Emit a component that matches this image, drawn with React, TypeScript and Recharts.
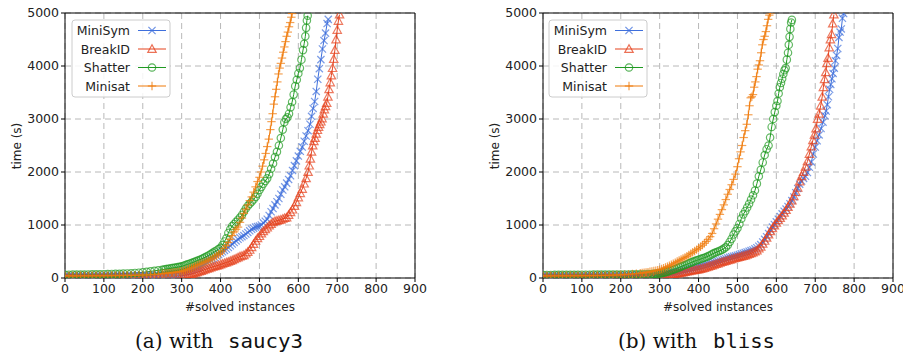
import React from 'react';
import { LineChart, Line, XAxis, YAxis, CartesianGrid, ReferenceLine } from 'recharts';

const xTicks = [0, 100, 200, 300, 400, 500, 600, 700, 800, 900];
const yTicks = [0, 1000, 2000, 3000, 4000, 5000];
const seriesNames = ['MiniSym', 'BreakID', 'Shatter', 'Minisat'];
const captions = [
  { prefix: '(a) with ', tool: 'saucy3' },
  { prefix: '(b) with ', tool: 'bliss' },
];

// (a) saucy3 — [#solved instances, time (s)]
const saucyMiniSym: [number, number][] = [
  [0, 40], [10, 40], [20, 40], [30, 41], [40, 41], [50, 42], [60, 42], [70, 43], [80, 43], [90, 44], [100, 44],
  [110, 45], [120, 45], [130, 46], [140, 46], [150, 47], [160, 48], [170, 48], [180, 49], [190, 50], [200, 51],
  [210, 52], [220, 54], [230, 56], [240, 58], [250, 62], [255, 64], [260, 66], [265, 69], [270, 72], [275, 75],
  [280, 78], [285, 82], [290, 86], [295, 90],
  [300, 94], [305, 104], [310, 115], [315, 127], [320, 140], [325, 152], [330, 165], [335, 180], [340, 195],
  [345, 212], [350, 230], [355, 250], [360, 270], [365, 292], [370, 315], [375, 337], [380, 360], [385, 387],
  [390, 415], [395, 442], [400, 470], [405, 495], [410, 520], [415, 547], [420, 575], [425, 607], [430, 640],
  [435, 670], [440, 700], [445, 730], [450, 760], [455, 780], [460, 800], [465, 830], [470, 860], [475, 890],
  [480, 920], [485, 940], [490, 960], [495, 970], [500, 980], [505, 1000], [510, 1040], [515, 1070], [520, 1110],
  [525, 1180], [530, 1250], [535, 1310], [540, 1380], [545, 1440], [550, 1500], [555, 1580], [560, 1660],
  [565, 1720], [570, 1790], [575, 1860], [580, 1930], [585, 2030], [590, 2120], [595, 2210], [600, 2300],
  [605, 2390], [610, 2470], [615, 2580], [620, 2680], [625, 2780], [630, 2900], [634, 3050], [638, 3200],
  [642, 3330], [646, 3520], [650, 3750], [654, 3950], [658, 4120], [662, 4320], [666, 4480], [670, 4620],
  [674, 4800], [677, 4880],
];
const saucyBreakID: [number, number][] = [
  [0, 30], [10, 30], [20, 30], [30, 30], [40, 30], [50, 30], [60, 30], [70, 30], [80, 31], [90, 31], [100, 31],
  [110, 31], [120, 32], [130, 32], [140, 32], [150, 33], [160, 33], [170, 33], [180, 34], [190, 34], [200, 35],
  [210, 35], [220, 36], [230, 36], [240, 37], [250, 37], [260, 38], [270, 39], [280, 40], [290, 42],
  [300, 45], [305, 50], [310, 55], [315, 62], [320, 70], [325, 77], [330, 85], [335, 97], [340, 110], [345, 120],
  [350, 130], [355, 145], [360, 160], [365, 172], [370, 185], [375, 197], [380, 210], [385, 220], [390, 230],
  [395, 242], [400, 255], [405, 267], [410, 280], [415, 292], [420, 305], [425, 320], [430, 335], [435, 352],
  [440, 370], [445, 387], [450, 405], [455, 417], [460, 430], [465, 460], [470, 490], [475, 530],
  [480, 580], [485, 640], [490, 700], [495, 750], [500, 790], [505, 840], [510, 880], [515, 920], [520, 950],
  [525, 990], [530, 1020], [535, 1050], [540, 1070], [545, 1080], [550, 1090], [555, 1100], [560, 1115],
  [565, 1130], [570, 1140], [575, 1190], [580, 1240], [585, 1290], [590, 1360], [595, 1430], [600, 1520],
  [605, 1600], [610, 1680], [615, 1780], [620, 1880], [625, 2000], [628, 2120], [631, 2250], [634, 2380],
  [637, 2500], [640, 2580], [643, 2640], [646, 2720], [649, 2790], [652, 2850], [655, 2900], [658, 2950],
  [661, 3010], [664, 3100], [667, 3180], [670, 3240], [673, 3300], [676, 3420], [679, 3560], [682, 3690],
  [685, 3820], [688, 3960], [691, 4130], [694, 4300], [697, 4500], [700, 4680], [703, 4850], [706, 4970],
];
const saucyShatter: [number, number][] = [
  [0, 60], [10, 62], [20, 63], [30, 64], [40, 65], [50, 66], [60, 67], [70, 68], [80, 69], [90, 70], [100, 72],
  [110, 74], [120, 76], [130, 78], [140, 80], [150, 83], [160, 86], [170, 90], [180, 95], [190, 100], [200, 107],
  [210, 115], [220, 125], [230, 135], [240, 145], [250, 155], [255, 161], [260, 168], [265, 174], [270, 180],
  [275, 186], [280, 192], [285, 198], [290, 205], [295, 212], [300, 220], [305, 232], [310, 245], [315, 257],
  [320, 270], [325, 282], [330, 295], [335, 310], [340, 325], [345, 340], [350, 355], [355, 372], [360, 390],
  [365, 410], [370, 430], [375, 452], [380, 475], [385, 497], [390, 520], [395, 545], [400, 570], [405, 620],
  [410, 690], [415, 750], [420, 850], [425, 920], [430, 980], [435, 1020],
  [440, 1060], [445, 1100], [450, 1140], [455, 1190], [460, 1250], [465, 1310], [470, 1360], [475, 1400],
  [480, 1440], [485, 1480], [490, 1530], [495, 1590], [500, 1660], [505, 1720], [510, 1780], [515, 1830],
  [520, 1880], [525, 1960], [530, 2060], [535, 2160], [540, 2280], [545, 2380], [550, 2500], [555, 2640],
  [560, 2800], [564, 2940], [568, 3000], [572, 3030], [576, 3100], [580, 3220], [584, 3320], [588, 3460],
  [592, 3620], [596, 3740], [600, 3860], [604, 3960], [608, 4120], [612, 4300], [615, 4420], [618, 4560],
  [620, 4720], [622, 4860], [624, 4950],
];
const saucyMinisat: [number, number][] = [
  [0, 40], [10, 40], [20, 40], [30, 40], [40, 41], [50, 41], [60, 41], [70, 42], [80, 42], [90, 42], [100, 43],
  [110, 43], [120, 44], [130, 44], [140, 45], [150, 46], [160, 47], [170, 48], [180, 50], [190, 52], [200, 55],
  [210, 58], [220, 62], [230, 67], [240, 72], [250, 80], [255, 84], [260, 88], [265, 92], [270, 96], [275, 100],
  [280, 105], [285, 110], [290, 115], [295, 120], [300, 126], [305, 138], [310, 150], [315, 162], [320, 175],
  [325, 190], [330, 205], [335, 222], [340, 240], [345, 255], [350, 270], [355, 285], [360, 300], [365, 315],
  [370, 330], [375, 350], [380, 370], [385, 395], [390, 420], [395, 445],
  [400, 470], [405, 510], [410, 560], [415, 610], [420, 670], [425, 730], [430, 800], [435, 870], [440, 920],
  [445, 960], [450, 1050], [455, 1130], [460, 1220], [465, 1300], [470, 1380], [475, 1460], [480, 1530],
  [485, 1620], [490, 1720], [495, 1820], [500, 1900], [504, 2000], [508, 2110], [512, 2230], [516, 2350],
  [520, 2480], [524, 2620], [528, 2800], [531, 2950], [534, 3100], [537, 3280], [540, 3420], [543, 3560],
  [546, 3700], [549, 3850], [552, 3960], [555, 4050], [558, 4150], [561, 4260], [564, 4360], [567, 4460],
  [570, 4560], [573, 4640], [576, 4740], [579, 4820], [582, 4920], [584, 4990],
];

// (b) bliss
const blissMiniSym: [number, number][] = [
  [0, 40], [10, 40], [20, 40], [30, 41], [40, 41], [50, 42], [60, 42], [70, 43], [80, 43], [90, 44], [100, 44],
  [110, 45], [120, 45], [130, 46], [140, 46], [150, 47], [160, 48], [170, 48], [180, 49], [190, 50], [200, 51],
  [210, 52], [220, 53], [230, 54], [240, 55], [250, 56], [260, 57], [270, 58], [280, 59], [290, 60],
  [300, 62], [305, 66], [310, 70], [315, 75], [320, 80], [325, 86], [330, 92], [335, 98], [340, 105], [345, 111],
  [350, 118], [355, 126], [360, 135], [365, 142], [370, 150], [375, 160], [380, 170], [385, 180], [390, 190],
  [395, 200], [400, 210], [405, 220], [410, 230], [415, 240], [420, 250], [425, 260], [430, 270], [435, 280],
  [440, 290], [445, 302], [450, 315], [455, 327], [460, 340], [465, 352], [470, 365], [475, 377], [480, 390],
  [485, 400], [490, 410], [495, 420], [500, 430], [505, 442], [510, 455], [515, 467], [520, 480], [525, 492],
  [530, 505], [535, 517], [540, 530], [545, 550], [550, 570], [555, 600], [560, 630], [565, 680], [570, 730],
  [575, 780], [580, 840], [585, 900], [590, 960], [595, 1010], [600, 1060], [605, 1110], [610, 1160],
  [615, 1210], [620, 1260], [625, 1300], [630, 1350], [635, 1400], [640, 1460], [645, 1530], [650, 1610],
  [655, 1690], [660, 1770], [665, 1830], [670, 1880], [675, 1920], [680, 1990], [685, 2090], [690, 2190],
  [695, 2340], [700, 2470], [705, 2590], [710, 2700], [715, 2820], [720, 2940], [725, 3060], [728, 3150],
  [731, 3270], [734, 3420], [737, 3560], [740, 3650], [743, 3760], [746, 3860], [749, 3960], [752, 4100],
  [755, 4200], [758, 4330], [761, 4540], [764, 4640], [767, 4700], [770, 4900], [773, 4990],
];
const blissBreakID: [number, number][] = [
  [0, 30], [10, 30], [20, 30], [30, 30], [40, 30], [50, 30], [60, 30], [70, 30], [80, 31], [90, 31], [100, 31],
  [110, 31], [120, 32], [130, 32], [140, 32], [150, 33], [160, 33], [170, 33], [180, 34], [190, 34], [200, 35],
  [210, 35], [220, 36], [230, 36], [240, 37], [250, 37], [260, 38], [270, 38], [280, 39], [290, 39],
  [300, 40], [305, 42], [310, 45], [315, 50], [320, 55], [325, 60], [330, 65], [335, 71], [340, 78], [345, 84],
  [350, 90], [355, 97], [360, 105], [365, 112], [370, 120], [375, 127], [380, 135], [385, 141], [390, 148],
  [395, 154], [400, 160], [405, 170], [410, 180], [415, 190], [420, 200], [425, 212], [430, 225], [435, 237],
  [440, 250], [445, 262], [450, 275], [455, 287], [460, 300], [465, 310], [470, 320], [475, 332], [480, 345],
  [485, 355], [490, 365], [495, 375], [500, 385], [505, 395], [510, 405], [515, 415], [520, 425], [525, 437],
  [530, 450], [535, 465], [540, 480], [545, 500], [550, 520], [555, 555], [560, 590], [565, 645], [570, 700],
  [575, 760], [580, 820], [585, 880], [590, 940], [595, 990], [600, 1040], [605, 1090], [610, 1130],
  [615, 1180], [620, 1230], [625, 1280], [630, 1340], [635, 1400], [640, 1460], [645, 1540], [650, 1620],
  [655, 1700], [660, 1820], [665, 1920], [670, 2000], [675, 2100], [680, 2200], [685, 2340], [690, 2480],
  [694, 2600], [698, 2700], [702, 2820], [706, 3000], [710, 3100], [714, 3250], [718, 3420], [721, 3600],
  [724, 3750], [727, 3880], [730, 4050], [733, 4150], [736, 4350], [739, 4500], [742, 4600], [745, 4800],
  [748, 4970],
];
const blissShatter: [number, number][] = [
  [0, 58], [10, 58], [20, 58], [30, 59], [40, 59], [50, 59], [60, 60], [70, 60], [80, 60], [90, 61], [100, 62],
  [110, 62], [120, 62], [130, 63], [140, 63], [150, 64], [160, 64], [170, 65], [180, 65], [190, 66], [200, 66],
  [210, 67], [220, 67], [230, 68], [240, 69], [250, 70], [260, 72], [270, 73], [280, 75], [285, 77], [290, 80],
  [295, 82], [300, 85], [305, 92], [310, 100], [315, 110], [320, 120], [325, 132], [330, 145], [335, 157],
  [340, 170], [345, 185], [350, 200], [355, 215], [360, 230], [365, 245], [370, 260], [375, 275], [380, 290],
  [385, 305], [390, 320], [395, 332], [400, 345], [405, 357], [410, 370], [415, 382], [420, 395], [425, 412],
  [430, 430], [435, 450], [440, 470], [445, 485], [450, 500], [455, 515], [460, 530], [465, 555], [470, 580],
  [475, 620], [480, 680], [485, 740], [490, 820], [495, 880], [500, 940], [505, 1020], [510, 1120], [515, 1200],
  [520, 1260], [525, 1330], [530, 1400], [535, 1480], [540, 1560], [545, 1650], [550, 1780], [555, 1920],
  [560, 2040], [565, 2180], [570, 2320], [575, 2430], [580, 2500], [584, 2650], [588, 2850], [592, 3000],
  [596, 3130], [600, 3250], [603, 3340], [606, 3480], [609, 3600], [612, 3680], [615, 3760], [618, 3850],
  [621, 3920], [624, 3960], [627, 4120], [630, 4250], [632, 4400], [634, 4550], [636, 4700], [638, 4820],
  [640, 4870],
];
const blissMinisat: [number, number][] = [
  [0, 40], [10, 40], [20, 40], [30, 41], [40, 41], [50, 41], [60, 42], [70, 42], [80, 43], [90, 43], [100, 44],
  [110, 44], [120, 45], [130, 46], [140, 47], [150, 48], [160, 50], [170, 52], [180, 54], [190, 57], [200, 60],
  [210, 65], [220, 70], [230, 76], [240, 82], [250, 90], [255, 95], [260, 100], [265, 105], [270, 110],
  [275, 117], [280, 125], [285, 132], [290, 140], [295, 148], [300, 157], [305, 171], [310, 185], [315, 200],
  [320, 215], [325, 232], [330, 250], [335, 270], [340, 290], [345, 310], [350, 330], [355, 350], [360, 370],
  [365, 390], [370, 410], [375, 435], [380, 460], [385, 485], [390, 510], [395, 535], [400, 560], [405, 590],
  [410, 620], [415, 655], [420, 690], [425, 730], [430, 780], [435, 840], [440, 930], [445, 1020],
  [450, 1110], [455, 1200], [460, 1290], [465, 1380], [470, 1480], [475, 1580], [480, 1670], [485, 1760],
  [490, 1860], [495, 1960], [500, 2100], [504, 2250], [508, 2380], [512, 2500], [516, 2650], [520, 2780],
  [524, 2900], [528, 3080], [531, 3250], [534, 3400], [537, 3420], [540, 3460], [543, 3600], [546, 3700],
  [549, 3800], [552, 3940], [555, 4020], [558, 4100], [561, 4250], [564, 4400], [567, 4500], [570, 4560],
  [573, 4650], [576, 4760], [579, 4880], [582, 4960], [585, 5000],
];

const COLORS: Record<string, string> = {
  MiniSym: '#3e6fdc',
  BreakID: '#e5421d',
  Shatter: '#1f9a21',
  Minisat: '#ef7b0b',
};
const KIND: Record<string, string> = { MiniSym: 'x', BreakID: 'tri', Shatter: 'circ', Minisat: 'plus' };

const toRows = (arr: [number, number][]) => arr.map(([n, t]) => ({ n, t }));

function Marker({ kind, cx, cy, color, op }: { kind: string; cx: number; cy: number; color: string; op: number }) {
  const common = { stroke: color, strokeOpacity: op, strokeWidth: 1.2, fill: 'none' };
  if (kind === 'x') {
    const s = 3.6;
    return (
      <g>
        <line x1={cx - s} y1={cy - s} x2={cx + s} y2={cy + s} {...common} />
        <line x1={cx - s} y1={cy + s} x2={cx + s} y2={cy - s} {...common} />
      </g>
    );
  }
  if (kind === 'plus') {
    const s = 4.2;
    return (
      <g>
        <line x1={cx - s} y1={cy} x2={cx + s} y2={cy} {...common} />
        <line x1={cx} y1={cy - s} x2={cx} y2={cy + s} {...common} />
      </g>
    );
  }
  if (kind === 'tri') {
    const s = 4.2;
    return <polygon points={`${cx},${cy - s} ${cx - s},${cy + s * 0.8} ${cx + s},${cy + s * 0.8}`} {...common} />;
  }
  return <circle cx={cx} cy={cy} r={3.7} {...common} />;
}

const makeDot = (name: string) => (props: any) => {
  const { cx, cy, index } = props;
  if (cx == null || cy == null) return <g key={`${name}-${index}`} />;
  return (
    <g key={`${name}-${index}`}>
      <Marker kind={KIND[name]} cx={cx} cy={cy} color={COLORS[name]} op={0.7} />
    </g>
  );
};

const FONT = '"DejaVu Sans", sans-serif';

function Panel({ left, series }: { left: number; series: Record<string, [number, number][]> }) {
  return (
    <div style={{ position: 'absolute', left, top: 0 }}>
      <LineChart width={430} height={320} margin={{ top: 13, right: 15, bottom: 12, left: 0 }}>
        <CartesianGrid stroke="#b8b8b8" strokeDasharray="6 4" strokeWidth={1} />
        <XAxis
          type="number"
          dataKey="n"
          domain={[0, 900]}
          ticks={xTicks}
          allowDataOverflow
          height={30}
          tickSize={4}
          tickMargin={2}
          stroke="#000"
          tick={{ fill: '#222', fontSize: 12.5, fontFamily: FONT }}
          axisLine={{ stroke: '#000' }}
        />
        <YAxis
          type="number"
          dataKey="t"
          domain={[0, 5000]}
          ticks={yTicks}
          allowDataOverflow
          width={65}
          tickSize={4}
          tickMargin={2}
          stroke="#000"
          tick={{ fill: '#222', fontSize: 12.5, fontFamily: FONT }}
          axisLine={{ stroke: '#000' }}
        />
        <ReferenceLine y={5000} stroke="#000" strokeWidth={1} />
        <ReferenceLine x={900} stroke="#000" strokeWidth={1} />
        {seriesNames.map((name) => (
          <Line
            key={name}
            data={toRows(series[name])}
            dataKey="t"
            type="linear"
            stroke={COLORS[name]}
            strokeWidth={1}
            dot={makeDot(name)}
            activeDot={false}
            isAnimationActive={false}
          />
        ))}
      </LineChart>
    </div>
  );
}

function Legend({ x, y }: { x: number; y: number }) {
  const rows = [30.5, 49, 67.5, 86];
  return (
    <g>
      <rect x={x} y={y} width={98} height={77} rx={3} fill="#fff" fillOpacity={0.85} stroke="#cccccc" />
      {seriesNames.map((name, i) => {
        const cy = rows[i];
        return (
          <g key={name}>
            <text x={x + 58} y={cy + 4.5} textAnchor="end" fontFamily={FONT} fontSize={12.5} fill="#222">
              {name}
            </text>
            <line x1={x + 66} x2={x + 94} y1={cy} y2={cy} stroke={COLORS[name]} strokeWidth={1} />
            <Marker kind={KIND[name]} cx={x + 80} cy={cy} color={COLORS[name]} op={0.75} />
          </g>
        );
      })}
    </g>
  );
}

export default function App() {
  const saucy = { MiniSym: saucyMiniSym, BreakID: saucyBreakID, Shatter: saucyShatter, Minisat: saucyMinisat };
  const bliss = { MiniSym: blissMiniSym, BreakID: blissBreakID, Shatter: blissShatter, Minisat: blissMinisat };
  const offsets = [0, 478];
  return (
    <div style={{ position: 'absolute', left: 0, top: 0, width: 903, height: 355, background: '#fff', overflow: 'hidden' }}>
      <Panel left={0} series={saucy} />
      <Panel left={478} series={bliss} />
      <svg width={903} height={355} style={{ position: 'absolute', left: 0, top: 0, pointerEvents: 'none' }}>
        {offsets.map((o, i) => (
          <g key={i}>
            <Legend x={72 + o - (i ? 1 : 0)} y={20} />
            <text
              x={0}
              y={0}
              transform={`translate(${21 + o},${146}) rotate(-90)`}
              textAnchor="middle"
              fontFamily={FONT}
              fontSize={12}
              fill="#222"
            >
              time (s)
            </text>
            <text x={240 + o} y={311} textAnchor="middle" fontFamily={FONT} fontSize={12} fill="#222">
              #solved instances
            </text>
          </g>
        ))}
        <text x={135} y={348} fontFamily='"DejaVu Serif", serif' fontSize={20} fill="#111">
          {captions[0].prefix}
        </text>
        <text x={228} y={348} fontFamily='"DejaVu Sans Mono", monospace' fontSize={20} fill="#111" textLength={75} lengthAdjust="spacingAndGlyphs">
          {captions[0].tool}
        </text>
        <text x={618} y={348} fontFamily='"DejaVu Serif", serif' fontSize={20} fill="#111">
          {captions[1].prefix}
        </text>
        <text x={713} y={348} fontFamily='"DejaVu Sans Mono", monospace' fontSize={20} fill="#111" textLength={62} lengthAdjust="spacingAndGlyphs">
          {captions[1].tool}
        </text>
      </svg>
    </div>
  );
}
